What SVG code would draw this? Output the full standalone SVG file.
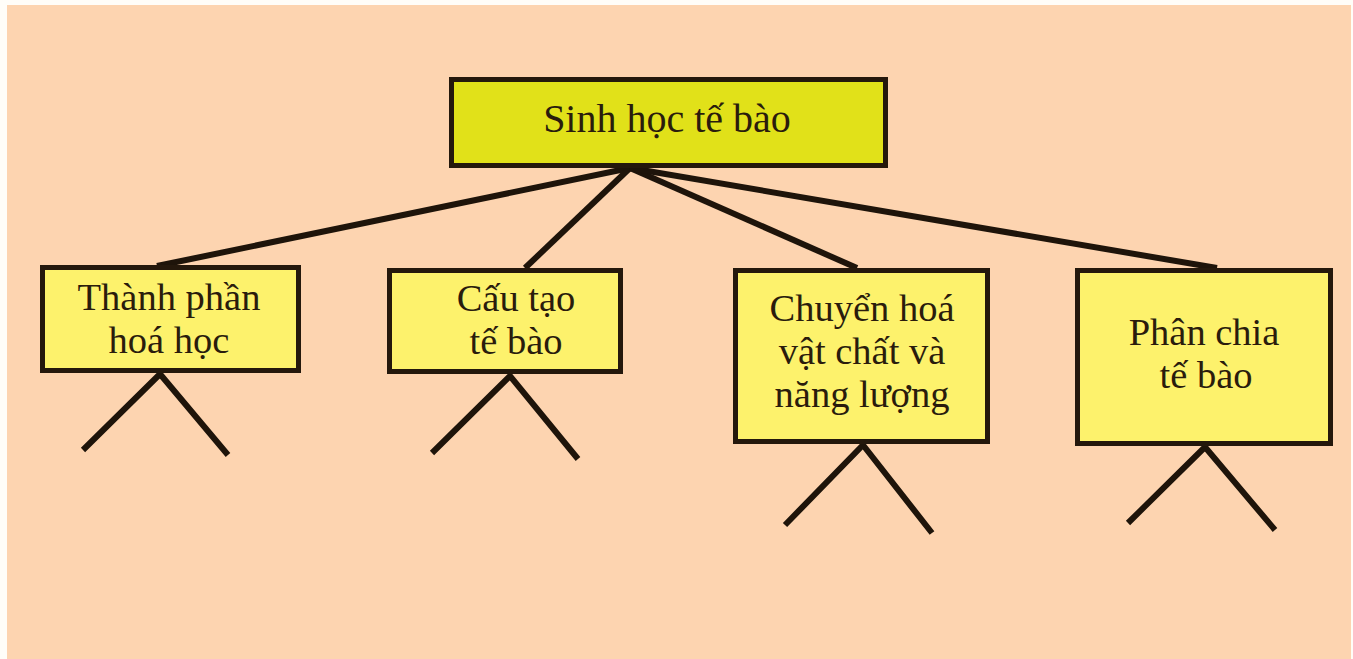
<svg xmlns="http://www.w3.org/2000/svg" width="1353" height="659" viewBox="0 0 1353 659">
<style>
.bg{fill:#fdd4b0}
.root{fill:#e1e119;stroke:#24180c;stroke-width:5}
.box{fill:#fdf26c;stroke:#24180c;stroke-width:5}
.t{font-family:"Liberation Serif","Times New Roman",serif;font-size:38.5px;fill:#2a1c0c;text-anchor:middle}
.tt{font-family:"Liberation Serif","Times New Roman",serif;font-size:40px;fill:#2a1c0c;text-anchor:middle}
.ln{stroke:#1e140a;stroke-width:6;stroke-linecap:butt;fill:none}
</style>
<rect x="0" y="0" width="1353" height="659" fill="#fffdf8"/>
<rect class="bg" x="7" y="5" width="1344" height="654"/>
<g id="connectors">
<line class="ln" x1="630" y1="168" x2="157" y2="266"/>
<line class="ln" x1="630" y1="168" x2="525" y2="268"/>
<line class="ln" x1="630" y1="168" x2="857" y2="268"/>
<line class="ln" x1="630" y1="168" x2="1217" y2="268"/>
<polyline class="ln" points="83,450 160,374 228,455"/>
<polyline class="ln" points="432,453 510,376 578,459"/>
<polyline class="ln" points="785,525 863,445 932,533"/>
<polyline class="ln" points="1128,523 1205,447 1275,530"/>
</g>
<g id="root">
<rect class="root" x="451.5" y="79.5" width="434" height="86"/>
<text class="tt" x="667" y="132">Sinh học tế bào</text>
</g>
<g id="n1">
<rect class="box" x="42.5" y="267.5" width="256" height="103"/>
<text class="t" x="169" y="310">Thành phần</text>
<text class="t" x="169" y="353">hoá học</text>
</g>
<g id="n2">
<rect class="box" x="389.5" y="270.5" width="231" height="101"/>
<text class="t" x="516" y="311">Cấu tạo</text>
<text class="t" x="516" y="354">tế bào</text>
</g>
<g id="n3">
<rect class="box" x="735.5" y="270.5" width="252" height="171"/>
<text class="t" x="862" y="321">Chuyển hoá</text>
<text class="t" x="862" y="364">vật chất và</text>
<text class="t" x="862" y="407">năng lượng</text>
</g>
<g id="n4">
<rect class="box" x="1077.5" y="270.5" width="253" height="173"/>
<text class="t" x="1204" y="345">Phân chia</text>
<text class="t" x="1206" y="388">tế bào</text>
</g>
</svg>
